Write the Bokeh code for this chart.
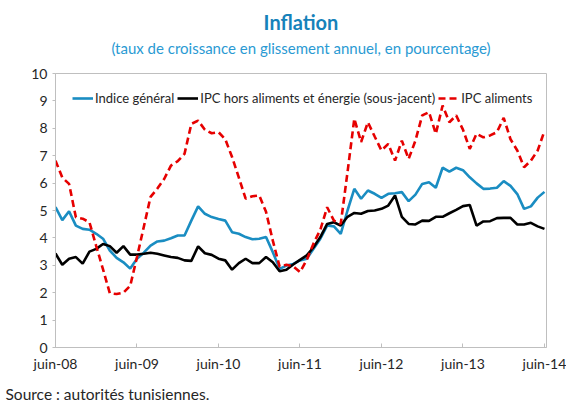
from bokeh.plotting import figure
from bokeh.models import Legend, LegendItem, Title, FixedTicker, Range1d, ColumnDataSource
from bokeh.embed import file_html
from bokeh.resources import INLINE

# Monthly observations, juin-08 (index 0) to juin-14 (index 72)
months = list(range(73))
tick_positions = [0, 12, 24, 36, 48, 60, 72]
tick_labels = ["juin-08", "juin-09", "juin-10", "juin-11", "juin-12", "juin-13", "juin-14"]
y_ticks = [0, 1, 2, 3, 4, 5, 6, 7, 8, 9, 10]

indice_general = [5.12, 4.65, 4.97, 4.45, 4.33, 4.30, 4.15, 3.97, 3.54, 3.27,
                  3.11, 2.88, 3.24, 3.46, 3.72, 3.87, 3.90, 3.99, 4.09, 4.09,
                  4.63, 5.15, 4.88, 4.76, 4.69, 4.63, 4.21, 4.15, 4.03, 3.95,
                  3.97, 4.03, 3.48, 2.87, 2.99, 3.05, 3.18, 3.24, 3.60, 3.97,
                  4.45, 4.42, 4.15, 5.00, 5.79, 5.43, 5.73, 5.61, 5.46, 5.61,
                  5.63, 5.67, 5.34, 5.58, 5.97, 6.03, 5.83, 6.56, 6.42, 6.56,
                  6.47, 6.21, 5.99, 5.79, 5.80, 5.83, 6.07, 5.90, 5.60, 5.06,
                  5.15, 5.47, 5.68]

ipc_sous_jacent = [3.43, 3.02, 3.24, 3.30, 3.06, 3.50, 3.60, 3.78, 3.70, 3.46,
                   3.70, 3.39, 3.39, 3.42, 3.46, 3.42, 3.36, 3.30, 3.27, 3.18,
                   3.16, 3.69, 3.44, 3.38, 3.24, 3.18, 2.84, 3.08, 3.24, 3.08,
                   3.08, 3.30, 3.11, 2.78, 2.84, 3.03, 3.20, 3.36, 3.66, 4.03,
                   4.51, 4.57, 4.45, 4.77, 4.91, 4.88, 4.98, 5.00, 5.06, 5.18,
                   5.55, 4.77, 4.51, 4.49, 4.63, 4.62, 4.77, 4.77, 4.90, 5.02,
                   5.16, 5.20, 4.45, 4.60, 4.61, 4.72, 4.73, 4.73, 4.49, 4.49,
                   4.55, 4.42, 4.33]

ipc_aliments = [6.82, 6.20, 5.97, 4.75, 4.70, 4.57, 3.70, 2.85, 1.98, 1.95,
                2.00, 2.25, 3.30, 4.40, 5.50, 5.80, 6.15, 6.64, 6.80, 7.07,
                8.16, 8.28, 7.95, 7.82, 7.86, 7.60, 6.95, 6.20, 5.43, 5.52,
                5.55, 4.95, 3.90, 2.95, 3.02, 2.96, 2.75, 3.20, 3.80, 4.30,
                5.12, 4.63, 4.51, 6.40, 8.35, 7.50, 8.22, 7.70, 7.19, 7.43,
                6.82, 7.55, 6.88, 7.55, 8.47, 8.59, 7.80, 8.83, 8.22, 8.47,
                7.95, 7.25, 7.80, 7.67, 7.74, 7.86, 8.38, 7.60, 7.19, 6.58,
                6.82, 7.19, 7.90]

FONT = "Lato"
BLUE = "#1A8DC2"
RED = "#E60000"
GREY = "#BFBFBF"
TXT = "#262626"

src = ColumnDataSource(dict(m=months, g=indice_general, s=ipc_sous_jacent, a=ipc_aliments))

p = figure(width=566, height=404, output_backend="svg", toolbar_location=None, tools="",
           x_range=Range1d(0, 72.3), y_range=Range1d(0, 10),
           min_border_left=55, min_border_right=20, min_border_top=73, min_border_bottom=57)

p.background_fill_color = "white"
p.border_fill_color = "white"
p.outline_line_color = GREY
p.outline_line_width = 1
p.xgrid.visible = False
p.ygrid.visible = False

r_g = p.line("m", "g", source=src, line_color=BLUE, line_width=2.6)
r_s = p.line("m", "s", source=src, line_color="black", line_width=2.6)
r_a = p.line("m", "a", source=src, line_color=RED, line_width=2.6, line_dash="7 4")

# x axis
xa = p.xaxis[0]
xa.ticker = FixedTicker(ticks=tick_positions)
xa.major_label_overrides = {t: l for t, l in zip(tick_positions, tick_labels)}
xa.major_tick_in = 4
xa.major_tick_out = 0
xa.minor_tick_in = 0
xa.minor_tick_out = 0
xa.axis_line_color = GREY
xa.major_tick_line_color = GREY
xa.major_label_standoff = 7
xa.major_label_text_font = FONT
xa.major_label_text_font_size = "14px"
xa.major_label_text_color = TXT

# y axis
ya = p.yaxis[0]
ya.ticker = FixedTicker(ticks=y_ticks)
ya.major_tick_in = 0
ya.major_tick_out = 3
ya.minor_tick_in = 0
ya.minor_tick_out = 0
ya.axis_line_color = GREY
ya.major_tick_line_color = GREY
ya.major_label_standoff = 5
ya.major_label_text_font = FONT
ya.major_label_text_font_size = "14px"
ya.major_label_text_color = TXT

legend = Legend(items=[
    LegendItem(label="Indice général", renderers=[r_g]),
    LegendItem(label="IPC hors aliments et énergie (sous-jacent)", renderers=[r_s]),
    LegendItem(label="IPC aliments", renderers=[r_a]),
], location="top_left", orientation="horizontal")
legend.margin = 17
legend.padding = 0
legend.spacing = 3
legend.glyph_width = 21
legend.glyph_height = 14
legend.label_height = 14
legend.label_standoff = 2
legend.label_text_font = FONT
legend.label_text_font_size = "13px"
legend.label_text_color = TXT
legend.background_fill_alpha = 0
legend.border_line_alpha = 0
p.add_layout(legend)

# above: white spacer (nearest the frame), subtitle, title
p.add_layout(Title(text=".", text_font=FONT, text_font_size="15px", standoff=4,
                   text_color="white"), "above")
p.add_layout(Title(text="(taux de croissance en glissement annuel, en pourcentage)",
                   align="center", text_font=FONT, text_font_size="15px",
                   text_font_style="normal", text_color="#2A9AD3", standoff=0), "above")
p.add_layout(Title(text="Inflation", align="center", text_font=FONT,
                   text_font_size="20px", text_font_style="bold",
                   text_color="#1682BA", standoff=6), "above")

# below: white spacer under the axis, then the source line
p.add_layout(Title(text=".", text_font=FONT, text_font_size="6px", standoff=2,
                   text_color="white"), "below")
p.add_layout(Title(text="Source : autorités tunisiennes.", align="left", offset=-50,
                   text_font=FONT, text_font_size="15.5px", text_font_style="normal",
                   text_color=TXT, standoff=0), "below")

open("out.html", "w").write(file_html(p, INLINE))
